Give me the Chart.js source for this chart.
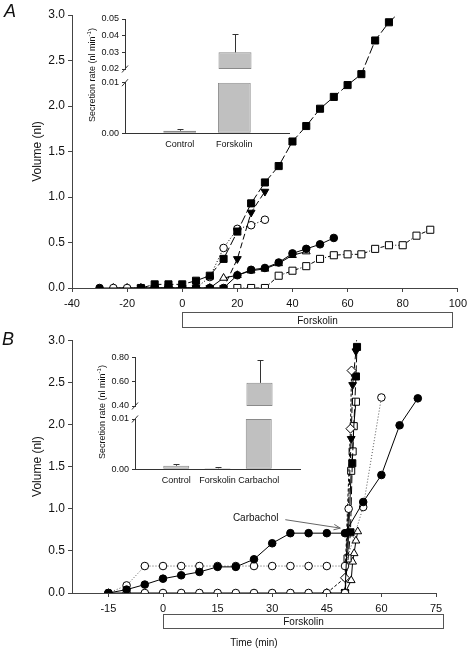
<!DOCTYPE html>
<html>
<head>
<meta charset="utf-8">
<script src="https://cdn.jsdelivr.net/npm/chart.js@4"></script>
<style>
  body { margin: 0; background: #fff; }
  #wrap { position: relative; width: 472px; height: 649px; overflow: hidden;
          font-family: Arial, "Liberation Sans", sans-serif; color: #111; }
  canvas { position: absolute; }
  .panel { position: absolute; font-size: 18px; font-style: italic; }
  .rate { position: absolute; font-size: 9px; white-space: nowrap;
          transform: translate(-50%, -50%) rotate(-90deg); }
  .rate sup { font-size: 6px; }
</style>
</head>
<body>
<div id="wrap">
  <canvas id="mainA" width="472" height="335" style="left:0;top:0"></canvas>
  <canvas id="mainB" width="472" height="319" style="left:0;top:330px"></canvas>
  <canvas id="insA1" width="215" height="75" style="left:80px;top:6px"></canvas>
  <canvas id="insA2" width="215" height="84" style="left:80px;top:70px"></canvas>
  <canvas id="insB1" width="216" height="74" style="left:90px;top:344px"></canvas>
  <canvas id="insB2" width="216" height="87" style="left:90px;top:405px"></canvas>
  <div class="panel" style="left:4px;top:1px">A</div>
  <div class="panel" style="left:2px;top:329px">B</div>
  <div class="rate" style="left:91px;top:75px">Secretion rate (nl min<sup>-1</sup>)</div>
  <div class="rate" style="left:101px;top:412px">Secretion rate (nl min<sup>-1</sup>)</div>
</div>
<script>
// ---- panel A : volume vs time (min) ----
const aSqT  = [-15, -10, -5, 0, 5, 10, 15, 20, 25, 30, 35, 40, 45, 50, 55, 60, 65, 70, 75, 80];
const aSqV  = [0, 0.04, 0.04, 0.04, 0.08, 0.135, 0.32, 0.62, 0.93, 1.16, 1.34, 1.61, 1.78, 1.97, 2.10, 2.23, 2.35, 2.72, 2.92, 3.06];
const aTriT = [-15, -10, -5, 0, 5, 10, 15, 20, 25, 30];
const aTriV = [0, 0, 0, 0, 0, 0, 0, 0.32, 0.83, 1.06];
const aOcT  = [-25, -20, -15, -10, -5, 0, 5, 10, 15, 20, 25, 30];
const aOcV  = [0, 0, 0, 0, 0, 0, 0, 0.12, 0.44, 0.65, 0.69, 0.75];
const aOtT  = [-25, -20, -15, -10, -5, 0, 5, 10, 15, 20, 25, 30, 35, 40, 45];
const aOtV  = [0, 0, 0, 0, 0, 0, 0, 0, 0.11, 0.14, 0.19, 0.21, 0.27, 0.36, 0.40];
const aFcT  = [-30, -15, -10, -5, 0, 5, 10, 15, 20, 25, 30, 35, 40, 45, 50, 55];
const aFcV  = [0, 0, 0, 0, 0, 0, 0, 0, 0.14, 0.20, 0.22, 0.28, 0.38, 0.43, 0.48, 0.55];
const aOsT  = [20, 25, 30, 35, 40, 45, 50, 55, 60, 65, 70, 75, 80, 85, 90];
const aOsV  = [0, 0, 0, 0.135, 0.19, 0.24, 0.32, 0.36, 0.37, 0.37, 0.43, 0.47, 0.47, 0.575, 0.64];
const aForskolin = [0, 98];

// ---- panel B ----
const bTicks = [-15, 0, 15, 30, 45, 60, 75];
const bFcT = [-15, -10, -5, 0, 5, 10, 15, 20, 25, 30, 35, 40, 45, 50, 55, 60, 65, 70];
const bFcV = [0, 0.04, 0.10, 0.17, 0.21, 0.25, 0.31, 0.31, 0.40, 0.59, 0.71, 0.71, 0.71, 0.71, 1.08, 1.40, 1.99, 2.31];
const bOcT = [-15, -10, -5, 0, 5, 10, 15, 20, 25, 30, 35, 40, 45, 50, 55, 60];
const bOcV = [0, 0.09, 0.32, 0.32, 0.32, 0.32, 0.32, 0.32, 0.32, 0.32, 0.32, 0.32, 0.32, 0.32, 1.02, 2.32];
const bBaseT = [-15, -10, -5, 0, 5, 10, 15, 20, 25, 30, 35, 40, 45, 50, 51];
const bBaseV = [0, 0, 0, 0, 0, 0, 0, 0, 0, 0, 0, 0, 0, 0, 1.0];
const bDiaT = [45, 50, 51.5, 51.8];
const bDiaV = [0, 0.18, 1.95, 2.64];
const bTriT = [50, 51.7, 52.1, 53, 53.3];
const bTriV = [0, 1.83, 2.47, 2.87, 3.08];
const bSqT  = [50, 51.5, 52, 53, 53.3];
const bSqV  = [0, 0.72, 1.54, 2.57, 2.92];
const bOsT  = [50, 50.7, 51.7, 52.1, 52.4, 53];
const bOsV  = [0, 0.41, 1.45, 1.68, 1.98, 2.27];
const bOtT  = [50, 51.7, 52.1, 52.5, 53, 53.5];
const bOtV  = [0, 0.15, 0.37, 0.47, 0.62, 0.73];
const bForskolin = [0, 77];

// ---- insets : secretion rate (nl/min) ----
const insACats = ['', 'Control', 'Forskolin', ''];
const insAVals = [null, 0.0005, 0.030, null];
const insAErrs = [null, 0.00085, 0.041, null];
const insBCats = ['', 'Control', 'Forskolin', 'Carbachol', ''];
const insBVals = [null, 0.0007, 0.0002, 0.59, null];
const insBErrs = [null, 0.0011, 0.0004, 0.78, null];

const FONT = 'Arial, "Liberation Sans", sans-serif';
Chart.defaults.font.family = FONT;
Chart.defaults.color = '#111';

const FILLED = '#000', OPEN = '#fff';
function series(t, v, shape, r, fill, dash, rot, color) {
  return {
    data: t.map((x, i) => ({ x: x, y: v[i] })),
    borderColor: color || '#000', borderWidth: 1, borderDash: dash || [],
    pointStyle: shape, pointRadius: r, pointRotation: rot || 0,
    pointBackgroundColor: fill, pointBorderColor: '#000', pointBorderWidth: 1,
    tension: 0, fill: false
  };
}

// box under the time axis
const forskolinBox = {
  id: 'forskolinBox',
  afterDraw(chart, args, o) {
    const x = chart.scales.x, ctx = chart.ctx;
    const x0 = Math.round(x.getPixelForValue(o.range[0])) + 0.5;
    const x1 = Math.round(x.getPixelForValue(o.range[1])) + 0.5;
    const y0 = Math.round(chart.chartArea.bottom + o.gap) + 0.5;
    ctx.save();
    ctx.strokeStyle = '#555'; ctx.lineWidth = 1;
    ctx.strokeRect(x0, y0, x1 - x0, o.h);
    ctx.fillStyle = '#111'; ctx.font = '10px ' + FONT;
    ctx.textAlign = 'center'; ctx.textBaseline = 'middle';
    ctx.fillText(o.label, (x0 + x1) / 2, y0 + o.h / 2 + 1);
    ctx.restore();
  }
};

// arrow label in panel B
const arrowNote = {
  id: 'arrowNote',
  afterDraw(chart, args, o) {
    if (!o.label) return;
    const x = chart.scales.x, y = chart.scales.y, ctx = chart.ctx;
    const p = a => [x.getPixelForValue(a[0]), y.getPixelForValue(a[1])];
    const t = p(o.textAt), a = p(o.from), b = p(o.to);
    ctx.save();
    ctx.fillStyle = '#111'; ctx.font = '10px ' + FONT;
    ctx.textAlign = 'left'; ctx.textBaseline = 'middle';
    ctx.fillText(o.label, t[0], t[1]);
    ctx.strokeStyle = '#666'; ctx.lineWidth = 1;
    ctx.beginPath(); ctx.moveTo(a[0], a[1]); ctx.lineTo(b[0], b[1]);
    const ang = Math.atan2(b[1] - a[1], b[0] - a[0]);
    ctx.moveTo(b[0] - 7 * Math.cos(ang - 0.4), b[1] - 7 * Math.sin(ang - 0.4));
    ctx.lineTo(b[0], b[1]);
    ctx.lineTo(b[0] - 7 * Math.cos(ang + 0.4), b[1] - 7 * Math.sin(ang + 0.4));
    ctx.stroke();
    ctx.restore();
  }
};

function mainChart(id, datasets, xOpts, pad, xHeight, xTitle, box, note) {
  return new Chart(document.getElementById(id), {
    type: 'line',
    data: { datasets: datasets },
    options: {
      responsive: false, animation: false, devicePixelRatio: 1,
      layout: { padding: pad },
      plugins: { legend: { display: false }, tooltip: { enabled: false },
                 forskolinBox: box, arrowNote: note || {} },
      scales: {
        x: Object.assign({
          type: 'linear',
          grid: { drawOnChartArea: false, tickLength: 4, color: '#444' },
          border: { color: '#444' },
          ticks: { font: { size: 11 }, padding: 5, maxRotation: 0 },
          title: xTitle,
          afterFit: s => { s.height = xHeight; }
        }, xOpts),
        y: {
          min: 0, max: 3,
          grid: { drawOnChartArea: false, tickLength: 4, color: '#444' },
          border: { color: '#444' },
          ticks: { stepSize: 0.5, font: { size: 12 }, padding: 3, callback: v => v.toFixed(1) },
          title: { display: true, text: 'Volume (nl)', font: { size: 12 }, padding: { top: 30, bottom: 0 } },
          afterFit: s => { s.width = 72; }
        }
      }
    },
    plugins: [forskolinBox, arrowNote]
  });
}

mainChart('mainA', [
  series(aFcT, aFcV, 'circle', 3.8, FILLED),
  series(aSqT, aSqV, 'rect', 5, FILLED, [9, 3]),
  series(aTriT, aTriV, 'triangle', 4.5, FILLED, [6, 3], 180),
  series(aOcT, aOcV, 'circle', 3.8, OPEN, [1, 2]),
  series(aOtT, aOtV, 'triangle', 4.5, OPEN),
  series(aOsT, aOsV, 'rect', 5, OPEN, [4, 2, 1, 2])
], { min: -40, max: 100, ticks: { stepSize: 20, font: { size: 11 }, padding: 5, maxRotation: 0 } },
   { top: 15, right: 10, left: 0, bottom: 0 }, 47, { display: false },
   { range: aForskolin, gap: 24, h: 15, label: 'Forskolin' });

mainChart('mainB', [
  series(bFcT, bFcV, 'circle', 3.8, FILLED),
  series(bBaseT, bBaseV, 'circle', 3.8, OPEN),
  series(bOcT, bOcV, 'circle', 3.8, OPEN, [1, 2], 0, '#555'),
  series(bDiaT, bDiaV, 'rectRot', 4.5, OPEN, [3, 2]),
  series(bTriT, bTriV, 'triangle', 4.5, FILLED, [6, 3], 180),
  series(bSqT, bSqV, 'rect', 5, FILLED, [8, 3]),
  series(bOsT, bOsV, 'rect', 5, OPEN),
  series(bOtT, bOtV, 'triangle', 4.5, OPEN)
], { min: -25, max: 75, afterBuildTicks: s => { s.ticks = bTicks.map(v => ({ value: v })); } },
   { top: 9, right: 36, left: 0, bottom: 0 }, 56,
   { display: true, text: 'Time (min)', font: { size: 10 }, padding: { top: 0, bottom: 0 } },
   { range: bForskolin, gap: 21, h: 14, label: 'Forskolin' },
   { label: 'Carbachol', textAt: [19.2, 0.89], from: [33.6, 0.87], to: [48.7, 0.77] });

// error bars on the inset bars
const errBars = {
  id: 'errBars',
  afterDatasetsDraw(chart, args, o) {
    const x = chart.scales.x, y = chart.scales.y, ctx = chart.ctx;
    ctx.save(); ctx.strokeStyle = '#333'; ctx.lineWidth = 1;
    o.vals.forEach((v, i) => {
      if (v == null) return;
      const lo = Math.max(v, o.min), hi = Math.min(o.errs[i], o.max);
      if (hi <= lo) return;
      const px = Math.round(x.getPixelForValue(i)) + 0.5;
      const top = Math.round(y.getPixelForValue(hi)) + 0.5;
      ctx.beginPath();
      ctx.moveTo(px, y.getPixelForValue(lo)); ctx.lineTo(px, top);
      if (o.errs[i] <= o.max) { ctx.moveTo(px - 3, top); ctx.lineTo(px + 3, top); }
      ctx.stroke();
    });
    ctx.restore();
  }
};
// "/" marks where the axis is broken
const breakMark = {
  id: 'breakMark',
  afterDraw(chart, args, o) {
    const a = chart.chartArea, ctx = chart.ctx;
    const yy = o.edge === 'bottom' ? a.bottom : a.top;
    ctx.save(); ctx.strokeStyle = '#333'; ctx.lineWidth = 1;
    ctx.beginPath(); ctx.moveTo(a.left - 3, yy + 3.5); ctx.lineTo(a.left + 3, yy - 3.5); ctx.stroke();
    ctx.restore();
  }
};

function insetPart(id, cats, vals, errs, seg) {
  const data = vals.map(v => (v == null || v <= seg.min) ? null : [seg.min, Math.min(v, seg.max)]);
  return new Chart(document.getElementById(id), {
    type: 'bar',
    data: { labels: cats, datasets: [{
      data: data, backgroundColor: '#c0c0c0', borderColor: '#8a8a8a', borderWidth: 1,
      borderSkipped: false, barPercentage: seg.bp, categoryPercentage: 1
    }] },
    options: {
      responsive: false, animation: false, devicePixelRatio: 1,
      layout: { padding: seg.pad },
      plugins: { legend: { display: false }, tooltip: { enabled: false },
                 errBars: { vals: vals, errs: errs, min: seg.min, max: seg.max },
                 breakMark: { edge: seg.edge } },
      scales: {
        x: { display: seg.showX, offset: false,
             grid: { display: false, drawTicks: false }, border: { color: '#333' },
             ticks: { font: { size: 9 }, padding: 6, maxRotation: 0, autoSkip: false },
             afterFit: s => { s.height = seg.xHeight; } },
        y: { min: seg.min, max: seg.max,
             grid: { drawOnChartArea: false, tickLength: 3, color: '#333' }, border: { color: '#333' },
             ticks: { stepSize: seg.step, font: { size: 9 }, padding: 3, callback: v => v.toFixed(2) },
             afterFit: s => { s.width = seg.yWidth; } }
      }
    },
    plugins: [errBars, breakMark]
  });
}

insetPart('insA1', insACats, insAVals, insAErrs,
  { min: 0.02, max: 0.05, step: 0.01, showX: false, pad: { top: 13, right: 5, left: 0, bottom: 12 },
    yWidth: 45, xHeight: 0, bp: 0.6, edge: 'bottom' });
insetPart('insA2', insACats, insAVals, insAErrs,
  { min: 0, max: 0.01, step: 0.01, showX: true, pad: { top: 12.7, right: 5, left: 0, bottom: 0 },
    yWidth: 45, xHeight: 20.7, bp: 0.6, edge: 'top' });
insetPart('insB1', insBCats, insBVals, insBErrs,
  { min: 0.4, max: 0.8, step: 0.2, showX: false, pad: { top: 13.3, right: 5, left: 0, bottom: 12 },
    yWidth: 45, xHeight: 0, bp: 0.63, edge: 'bottom' });
insetPart('insB2', insBCats, insBVals, insBErrs,
  { min: 0, max: 0.01, step: 0.01, showX: true, pad: { top: 14, right: 5, left: 0, bottom: 0 },
    yWidth: 45, xHeight: 22.7, bp: 0.63, edge: 'top' });
</script>
</body>
</html>
